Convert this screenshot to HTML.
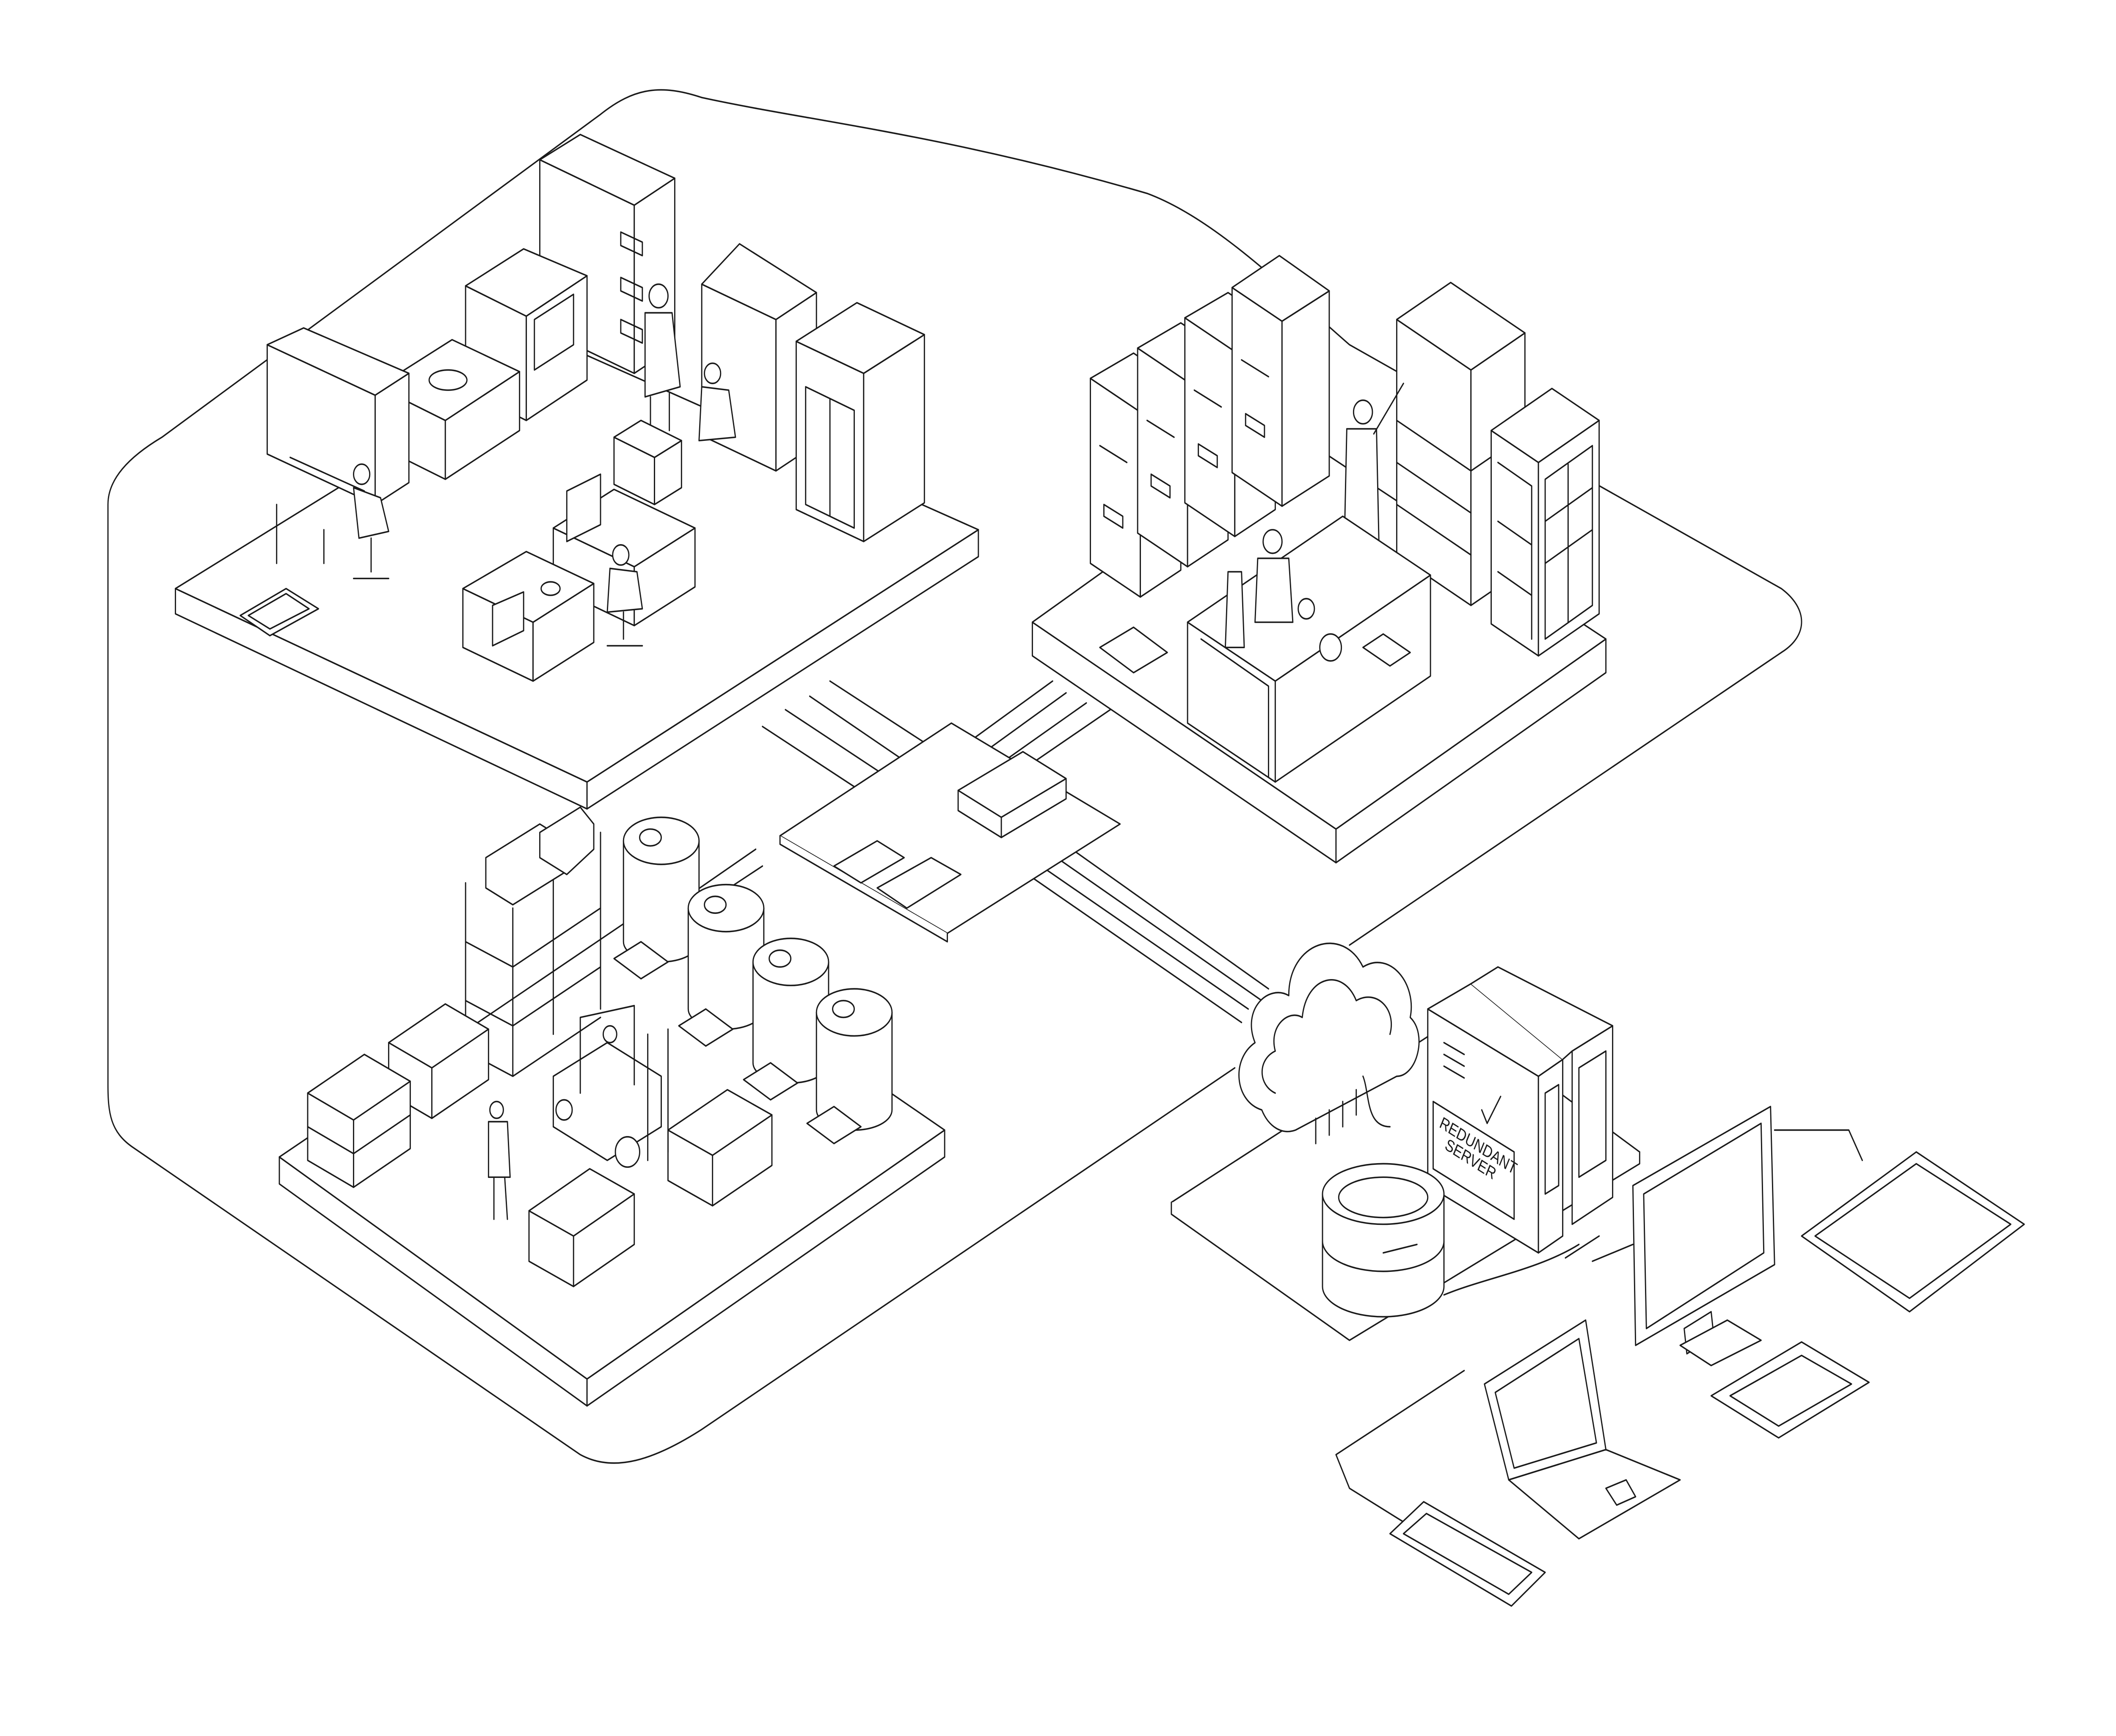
<!DOCTYPE html>
<html><head><meta charset="utf-8"><style>
html,body{margin:0;padding:0;background:#fff;width:100%;height:100%;overflow:hidden;}
svg{display:block;position:absolute;left:0;top:0;width:100vw;height:100vh;}
</style></head><body>
<svg viewBox="0 0 1568 1032.3" preserveAspectRatio="none" xmlns="http://www.w3.org/2000/svg">
<g fill="#fff" stroke="#1a1a1a" stroke-width="0.9" stroke-linejoin="round" stroke-linecap="round">
<path fill="none" d="M915,635 L520,850 C485,868 455,876 430,865 L98,682 C82,673 80,662 80,645 L80,300 C80,285 95,272 120,260 L445,68 C470,52 490,50 520,58 C600,72 700,80 850,115 C900,130 950,170 1000,205 L1320,350 C1340,362 1340,378 1320,388 L1000,562"/>
<g fill="none">
<path d="M565,432 L660,482 M582,422 L680,474 M600,414 L695,466 M615,405 L705,452"/>
<path d="M720,440 L780,405 M728,448 L790,412 M738,456 L805,418 M750,462 L830,418"/>
<path d="M740,508 L920,608 M748,502 L925,600 M758,496 L935,595 M768,490 L940,588"/>
<path d="M560,505 L470,555 M565,515 L480,560"/>
</g>
<path d="M130,350 L435,465 L435,481 L130,365 Z"/>
<path d="M435,465 L725,315 L725,331 L435,481 Z"/>
<path d="M130,350 L420,206 L725,315 L435,465 Z"/>
<path d="M178,366 L212,350 L236,362 L200,378 Z"/>
<path d="M184,366 L212,353 L229,362 L200,374 Z"/>
<path d="M470,222 L400,195 L400,95 L470,122 Z"/>
<path d="M470,222 L500,206 L500,106 L470,122 Z"/>
<path d="M400,95 L430,80 L500,106 L470,122 Z"/>
<g fill="none"><path d="M460,138 L476,144 L476,152 L460,146 Z M460,165 L476,171 L476,179 L460,173 Z M460,190 L476,196 L476,204 L460,198 Z"/></g>
<path d="M390,250 L345,232 L345,170 L390,188 Z"/>
<path d="M390,250 L435,226 L435,164 L390,188 Z"/>
<path d="M345,170 L388,148 L435,164 L390,188 Z"/>
<path d="M396,190 L425,175 L425,205 L396,220 Z"/>
<path d="M330,285 L280,265 L280,230 L330,250 Z"/>
<path d="M330,285 L385,256 L385,221 L330,250 Z"/>
<path d="M280,230 L335,202 L385,221 L330,250 Z"/>
<ellipse cx="332" cy="226" rx="14" ry="6"/>
<path d="M278,300 L198,270 L198,205 L278,235 Z"/>
<path d="M278,300 L303,287 L303,222 L278,235 Z"/>
<path d="M198,205 L225,195 L303,222 L278,235 Z"/>
<path fill="none" d="M205,300 L205,335 M240,315 L240,335 M215,272 L270,292"/>
<circle cx="268" cy="282" r="6"/><path d="M262,290 L282,296 L288,316 L266,320 Z"/><path fill="none" d="M275,320 L275,340 M262,344 L288,344"/>
<path d="M575,280 L520,259 L520,169 L575,190 Z"/>
<path d="M575,280 L605,264 L605,174 L575,190 Z"/>
<path d="M520,169 L548,145 L605,174 L575,190 Z"/>
<circle cx="488" cy="176" r="7"/><path d="M478,186 L498,186 L504,230 L478,236 Z"/><path fill="none" d="M482,236 L482,258 M496,234 L496,256"/>
<circle cx="528" cy="222" r="6"/><path d="M520,230 L540,232 L545,260 L518,262 Z"/>
<path d="M640,322 L590,303 L590,203 L640,222 Z"/>
<path d="M640,322 L685,299 L685,199 L640,222 Z"/>
<path d="M590,203 L635,180 L685,199 L640,222 Z"/>
<path fill="none" d="M597,230 L633,244 L633,314 L597,300 Z M615,237 L615,307"/>
<path d="M470,372 L410,349 L410,314 L470,337 Z"/>
<path d="M470,372 L515,349 L515,314 L470,337 Z"/>
<path d="M410,314 L455,291 L515,314 L470,337 Z"/>
<path d="M485,300 L455,288 L455,260 L485,272 Z"/><path d="M485,300 L505,290 L505,262 L485,272 Z"/><path d="M455,260 L475,250 L505,262 L485,272 Z"/>
<path d="M420,292 L445,282 L445,312 L420,322 Z"/>
<circle cx="460" cy="330" r="6"/><path d="M452,338 L472,340 L476,362 L450,364 Z"/><path fill="none" d="M462,364 L462,380 M450,384 L476,384"/>
<path d="M395,405 L343,385 L343,350 L395,370 Z"/>
<path d="M395,405 L440,382 L440,347 L395,370 Z"/>
<path d="M343,350 L390,328 L440,347 L395,370 Z"/>
<path d="M365,360 L388,352 L388,375 L365,384 Z"/>
<ellipse cx="408" cy="350" rx="7" ry="4"/>
<path d="M765,370 L990,493 L990,513 L765,390 Z"/>
<path d="M990,493 L1190,380 L1190,400 L990,513 Z"/>
<path d="M765,370 L960,258 L1190,380 L990,493 Z"/>
<path d="M815,385 L840,373 L865,388 L840,400 Z"/>
<g>
<path d="M845,355 L808,335 L808,225 L845,245 Z"/><path d="M845,355 L875,339 L875,229 L845,245 Z"/><path d="M808,225 L840,210 L875,229 L845,245 Z"/>
<path d="M880,337 L843,317 L843,207 L880,227 Z"/><path d="M880,337 L910,321 L910,211 L880,227 Z"/><path d="M843,207 L875,192 L910,211 L880,227 Z"/>
<path d="M915,319 L878,299 L878,189 L915,209 Z"/><path d="M915,319 L945,303 L945,193 L915,209 Z"/><path d="M878,189 L910,174 L945,193 L915,209 Z"/>
<path d="M950,301 L913,281 L913,171 L950,191 Z"/><path d="M950,301 L985,283 L985,173 L950,191 Z"/><path d="M913,171 L948,152 L985,173 L950,191 Z"/>
<g fill="none"><path d="M815,265 L835,275 M850,250 L870,260 M885,232 L905,242 M920,214 L940,224 M818,300 L832,307 L832,314 L818,307 Z M853,282 L867,289 L867,296 L853,289 Z M888,264 L902,271 L902,278 L888,271 Z M923,246 L937,253 L937,260 L923,253 Z"/></g>
</g>
<path d="M1090,360 L1035,330 L1035,190 L1090,220 Z"/>
<path d="M1090,360 L1130,338 L1130,198 L1090,220 Z"/>
<path d="M1035,190 L1075,168 L1130,198 L1090,220 Z"/>
<path fill="none" d="M1035,250 L1090,280 L1130,258 M1035,300 L1090,330 M1035,275 L1090,305"/>
<circle cx="1010" cy="245" r="7"/><path d="M998,255 L1020,255 L1022,330 L996,330 Z"/><path fill="none" d="M1018,258 L1040,228"/>
<path d="M1140,390 L1105,371 L1105,256 L1140,275 Z"/>
<path d="M1140,390 L1185,365 L1185,250 L1140,275 Z"/>
<path d="M1105,256 L1150,231 L1185,250 L1140,275 Z"/>
<path fill="none" d="M1145,285 L1180,265 L1180,360 L1145,380 Z M1162,276 L1162,370 M1145,310 L1180,290 M1145,335 L1180,315 M1110,275 L1135,289 L1135,380 M1110,310 L1135,324 M1110,340 L1135,354"/>
<path d="M945,465 L880,430 L880,370 L945,405 Z"/>
<path d="M945,465 L1060,402 L1060,342 L945,405 Z"/>
<path d="M880,370 L995,307 L1060,342 L945,405 Z"/>
<path fill="none" d="M890,380 L940,408 L940,462 M1010,385 L1030,396 L1045,388 L1025,377 Z"/>
<circle cx="943" cy="322" r="7"/><path d="M932,332 L955,332 L958,370 L930,370 Z"/>
<path d="M910,340 L920,340 L922,385 L908,385 Z"/>
<circle cx="986" cy="385" r="8"/><circle cx="968" cy="362" r="6"/>
<path d="M207,688 L435,820 L435,836 L207,704 Z"/>
<path d="M435,820 L700,672 L700,688 L435,836 Z"/>
<path d="M207,688 L470,545 L700,672 L435,820 Z"/>
<path fill="none" d="M345,525 L345,630 M380,540 L380,640 M410,510 L410,615 M445,495 L445,600 M345,560 L380,575 L445,540 M345,595 L380,610 L445,575 M345,625 L380,640 L445,605"/>
<path d="M380,538 L360,528 L360,510 L400,490 L420,500 L420,518 Z"/>
<path d="M420,520 L400,510 L400,495 L430,480 L440,490 L440,505 Z"/>
<g>
<path d="M462,500 L462,560 A28,12 0 0 0 518,560 L518,500 Z"/><ellipse cx="490" cy="500" rx="28" ry="14"/><ellipse cx="482" cy="498" rx="8" ry="5"/>
<path d="M455,570 L475,560 L495,572 L475,582 Z"/>
<path d="M510,540 L510,600 A28,12 0 0 0 566,600 L566,540 Z"/><ellipse cx="538" cy="540" rx="28" ry="14"/><ellipse cx="530" cy="538" rx="8" ry="5"/>
<path d="M503,610 L523,600 L543,612 L523,622 Z"/>
<path d="M558,572 L558,632 A28,12 0 0 0 614,632 L614,572 Z"/><ellipse cx="586" cy="572" rx="28" ry="14"/><ellipse cx="578" cy="570" rx="8" ry="5"/>
<path d="M551,642 L571,632 L591,644 L571,654 Z"/>
<path d="M605,602 L605,660 A28,12 0 0 0 661,660 L661,602 Z"/><ellipse cx="633" cy="602" rx="28" ry="14"/><ellipse cx="625" cy="600" rx="8" ry="5"/>
<path d="M598,668 L618,658 L638,670 L618,680 Z"/>
</g>
<g>
<path d="M288,620 L288,650 L320,665 L362,642 L362,612 L330,597 Z"/><path fill="none" d="M288,620 L320,635 L362,612 M320,635 L320,665"/>
<path d="M228,650 L228,690 L262,706 L304,683 L304,643 L270,627 Z"/><path fill="none" d="M228,650 L262,666 L304,643 M262,666 L262,706 M228,670 L262,686 L304,663"/>
<path d="M392,720 L392,750 L425,765 L470,740 L470,710 L437,695 Z"/><path fill="none" d="M392,720 L425,735 L470,710 M425,735 L425,765"/>
<path d="M495,672 L495,702 L528,717 L572,693 L572,663 L539,648 Z"/><path fill="none" d="M495,672 L528,687 L572,663 M528,687 L528,717"/>
</g>
<path d="M410,640 L410,670 L450,690 L490,670 L490,640 L450,620 Z"/>
<path fill="none" d="M430,605 L430,650 M470,598 L470,645 M430,605 L470,598 M480,615 L480,690 M495,612 L495,685"/>
<circle cx="465" cy="685" r="9"/><circle cx="418" cy="660" r="6"/>
<circle cx="452" cy="615" r="5"/>
<circle cx="368" cy="660" r="5"/><path d="M362,667 L376,667 L378,700 L362,700 Z"/><path fill="none" d="M366,700 L366,725 M374,700 L376,725"/>
<path d="M578,497 L705,430 L830,490 L702,555 Z"/>
<path d="M702,555 L702,560 L578,502 L578,497"/>
<path d="M710,470 L710,482 L742,498 L790,475 L790,463 L758,447 Z"/><path fill="none" d="M710,470 L742,486 L790,463 M742,486 L742,498"/>
<path d="M618,515 L650,500 L670,510 L638,525 Z"/>
<path d="M650,528 L690,510 L712,520 L672,540 Z"/>
<path d="M868,715 L1000,790 L1215,685 L1080,605 Z"/>
<path d="M868,715 L868,722 L1000,797 L1215,692 L1215,685"/>
<path d="M935,660 C915,655 912,630 930,620 C920,600 940,585 955,592 C955,560 995,550 1010,575 C1030,565 1050,585 1045,605 C1058,615 1050,640 1035,640 L960,672 C950,675 940,670 935,660 Z"/>
<path fill="none" d="M945,650 C932,645 932,630 945,625 C940,610 955,600 965,605 C968,580 995,575 1005,595 C1020,588 1035,600 1030,615"/>
<path fill="none" d="M975,665 L975,680 M985,660 L985,675 M995,655 L995,670 M1005,648 L1005,663"/>
<path d="M1140,745 L1058,705 L1058,600 L1140,640 Z"/>
<path d="M1140,745 L1158,735 L1158,630 L1140,640 Z"/>
<path d="M1058,600 L1090,585 L1158,630 L1140,640 Z"/>
<path d="M1165,728 L1195,712 L1195,610 L1165,625 Z"/>
<path d="M1090,585 L1110,575 L1195,610 L1165,625 L1158,630"/>
<path fill="none" d="M1145,650 L1155,645 L1155,705 L1145,710 Z M1170,635 L1190,625 L1190,690 L1170,700 Z"/>
<path d="M1062,655 L1122,685 L1122,725 L1062,695 Z"/>
<text x="0" y="0" transform="translate(1066,670) rotate(27)" font-family="Liberation Sans, sans-serif" font-size="10" fill="#1a1a1a" stroke="none">REDUNDANT</text>
<text x="0" y="0" transform="translate(1070,683) rotate(27)" font-family="Liberation Sans, sans-serif" font-size="10" fill="#1a1a1a" stroke="none">SERVER</text>
<path fill="none" d="M1070,620 L1085,627 M1070,627 L1085,634 M1070,634 L1085,641 M1098,660 L1102,668 L1112,652"/>
<path d="M980,710 L980,765 A45,18 0 0 0 1070,765 L1070,710 Z"/>
<ellipse cx="1025" cy="710" rx="45" ry="18"/><ellipse cx="1025" cy="712" rx="33" ry="12"/>
<path fill="none" d="M980,738 A45,18 0 0 0 1070,738 M1025,745 L1050,740"/>
<path fill="none" d="M1070,770 C1100,760 1140,755 1170,740 M1010,640 C1015,650 1012,670 1030,670 M1315,672 L1370,672 L1380,690 M1160,748 L1185,735 M1180,750 L1210,740"/>
<path fill="none" d="M1085,815 L990,865 L1000,885 L1040,905"/>
<path d="M1210,705 L1312,658 L1315,752 L1212,800 Z"/>
<path fill="none" d="M1218,710 L1305,668 L1307,745 L1220,790 Z"/>
<path d="M1248,790 L1268,780 L1270,795 L1250,805 Z"/>
<path d="M1245,800 L1280,785 L1305,797 L1268,812 Z"/>
<path d="M1335,735 L1420,685 L1500,728 L1415,780 Z"/>
<path fill="none" d="M1345,735 L1420,692 L1490,728 L1415,772 Z"/>
<path d="M1268,830 L1335,798 L1385,822 L1318,855 Z"/>
<path fill="none" d="M1282,830 L1335,806 L1372,823 L1318,848 Z"/>
<path d="M1100,823 L1175,785 L1190,862 L1118,880 Z"/>
<path fill="none" d="M1108,828 L1170,796 L1183,858 L1122,873 Z"/>
<path d="M1118,880 L1190,862 L1245,880 L1170,915 Z"/>
<path fill="none" d="M1190,885 L1205,880 L1212,890 L1198,895 Z"/>
<path d="M1030,912 L1055,893 L1145,935 L1120,955 Z"/>
<path fill="none" d="M1040,912 L1057,900 L1135,935 L1118,948 Z"/>
</g>
</svg>
</body></html>
